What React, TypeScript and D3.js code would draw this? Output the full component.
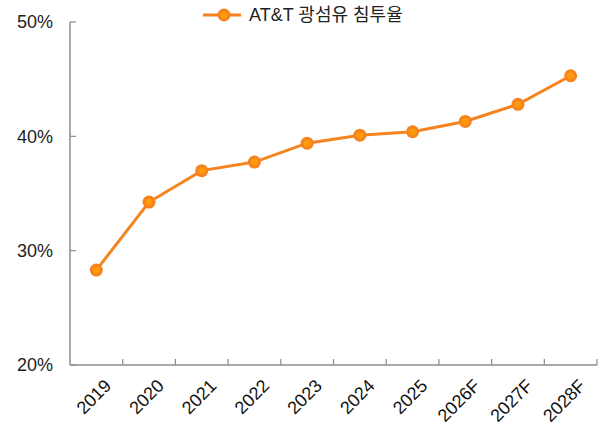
import React from "react";
import { scaleBand, scaleLinear, line } from "d3";

const years = ["2019", "2020", "2021", "2022", "2023", "2024", "2025", "2026F", "2027F", "2028F"];
const penetration = [28.3, 34.25, 37.0, 37.75, 39.4, 40.1, 40.4, 41.3, 42.8, 45.3];
const yTicks = [20, 30, 40, 50];
const seriesName = "AT&T 광섬유 침투율";

const width = 605;
const height = 430;
const margin = { top: 22, right: 8, bottom: 65, left: 70 };
const innerWidth = 597 - margin.left;
const innerHeight = height - margin.top - margin.bottom;

const orange = "#F5841F";
const font = "'Liberation Sans', 'Noto Sans CJK KR', sans-serif";

const App = () => {
  const xScale = scaleBand().domain(years).range([0, innerWidth]);
  const yScale = scaleLinear().domain([20, 50]).range([innerHeight, 0]);
  const cx = (d: string) => (xScale(d) ?? 0) + xScale.bandwidth() / 2;

  const path = line<number>()
    .x((_, i) => cx(years[i]))
    .y(d => yScale(d))(penetration);

  const edges = years.map(d => xScale(d) ?? 0).concat([innerWidth]);

  return (
    <svg width={width} height={height} style={{ position: "absolute", left: 0, top: 0 }} fontFamily={font}>
      <g transform={`translate(${margin.left},${margin.top})`}>
        <line x1={0} x2={0} y1={0} y2={innerHeight} stroke="#8c8c8c" strokeWidth={1.5} />
        <line x1={0} x2={innerWidth} y1={innerHeight} y2={innerHeight} stroke="#8c8c8c" strokeWidth={1.5} />
        {yTicks.map(t => (
          <g key={t} transform={`translate(0,${yScale(t)})`}>
            <line x1={0} x2={6} stroke="#8c8c8c" strokeWidth={1.2} />
            <text x={-17} dy="0.36em" textAnchor="end" fontSize={18} fill="#222">{t}%</text>
          </g>
        ))}
        {edges.slice(1).map((e, i) => (
          <line key={i} x1={e} x2={e} y1={innerHeight} y2={innerHeight - 6} stroke="#8c8c8c" strokeWidth={1.2} />
        ))}
        {years.map(d => (
          <text
            key={d}
            transform={`translate(${cx(d) + 7},${innerHeight + 13}) rotate(-45)`}
            textAnchor="end"
            dy="0.7em"
            fontSize={18}
            fill="#111"
          >
            {d}
          </text>
        ))}
        <path d={path ?? ""} fill="none" stroke={orange} strokeWidth={3} />
        {penetration.map((v, i) => (
          <g key={i}>
            <circle cx={cx(years[i])} cy={yScale(v)} r={6.5} fill={orange} />
            <circle cx={cx(years[i])} cy={yScale(v)} r={3.5} fill="#FF9A0A" />
          </g>
        ))}
      </g>
      <g transform="translate(203,15)">
        <line x1={0} x2={38} stroke={orange} strokeWidth={3} />
        <circle cx={21} cy={0} r={6.5} fill={orange} />
        <circle cx={21} cy={0} r={3.5} fill="#FF9A0A" />
        <text x={46} dy="0.35em" fontSize={18} fill="#222">{seriesName}</text>
      </g>
    </svg>
  );
};

export default App;
